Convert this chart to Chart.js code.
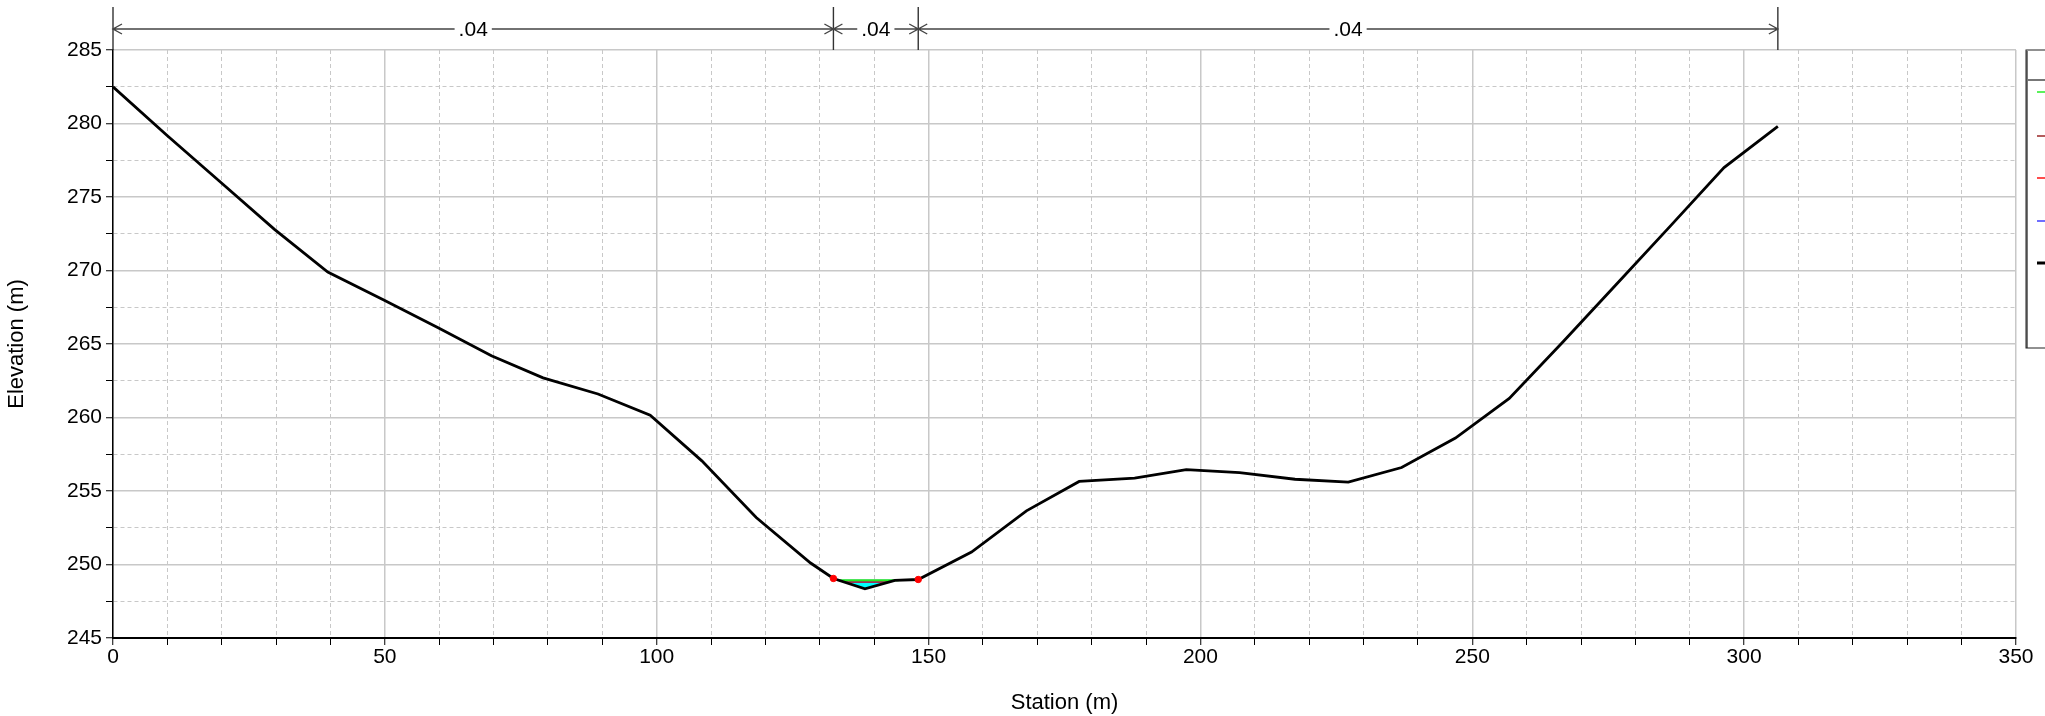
<!DOCTYPE html>
<html>
<head>
<meta charset="utf-8">
<script src="https://cdn.jsdelivr.net/npm/chart.js@4.4.1/dist/chart.umd.min.js"></script>
<style>
  html, body { margin: 0; padding: 0; background: #fff; overflow: hidden; }
  #wrap { width: 2045px; height: 716px; }
</style>
</head>
<body>
<div id="wrap"><canvas id="xsChart" width="2045" height="716"></canvas></div>
<script>
// ground profile (station m, elevation m)
const groundSta = [0, 9.9, 19.8, 29.7, 39.5, 49.8, 59.8, 69.6, 79.1, 89.2, 98.8, 108.3, 118.3, 128.3, 132.5, 138.3, 143.8, 148.1,
    157.9, 168.0, 177.7, 187.9, 197.4, 207.2, 217.4, 227.2, 237.0, 246.9, 256.8, 266.7, 276.6, 286.5, 296.3, 306.2];
const groundElev = [282.5, 279.2, 276.0, 272.8, 269.9, 268.0, 266.1, 264.2, 262.7, 261.6, 260.15, 257.05, 253.2, 250.1, 249.05, 248.35, 248.92, 248.98,
    250.85, 253.65, 255.65, 255.88, 256.45, 256.25, 255.8, 255.6, 256.6, 258.6, 261.3, 265.15, 269.1, 273.05, 277.0, 279.8];

// bank stations
const bankSta = [132.5, 148.1];
const bankElev = [249.05, 248.98];

// profile results
const egSta = [133.5, 144.5];
const egElev = [248.93, 248.93];
const wsSta = [133.7, 143.8];
const wsElev = [248.91, 248.91];
const critSta = [134.5, 142.7];
const critElev = [248.81, 248.81];

// Manning's n zones
const nBreaks = [0, 132.5, 148.1, 306.2];
const manningN = [0.04, 0.04, 0.04];

// legend entries (text runs off the right edge like the original)
const legendNames = ['EG PF 1', 'Crit PF 1', 'Bank Sta', 'WS PF 1', 'Ground'];
const legendColors = ['#33ee33', '#a03434', '#ff2020', '#4a4aff', '#000000'];

const xMin = 0, xMax = 350, xStep = 10, xMajor = 50;
const yMin = 245, yMax = 285, yStep = 2.5, yMajor = 5;

const pts = (xs, ys) => xs.map((x, i) => ({ x: x, y: ys[i] }));
const FONT = "'Liberation Sans', Arial, sans-serif";

const nLabelsPlugin = {
    id: 'nLabels',
    afterDraw(chart) {
        const ctx = chart.ctx;
        const xs = chart.scales.x;
        const top = chart.chartArea.top;
        const yLine = 29;
        ctx.save();
        ctx.strokeStyle = '#333';
        ctx.lineWidth = 1.4;
        nBreaks.forEach(s => {
            const px = xs.getPixelForValue(s);
            ctx.beginPath();
            ctx.moveTo(px, 7);
            ctx.lineTo(px, top);
            ctx.stroke();
        });
        ctx.font = '21px ' + FONT;
        ctx.textAlign = 'center';
        ctx.textBaseline = 'middle';
        for (let i = 0; i < manningN.length; i++) {
            const x1 = xs.getPixelForValue(nBreaks[i]);
            const x2 = xs.getPixelForValue(nBreaks[i + 1]);
            ctx.strokeStyle = '#444';
            ctx.beginPath();
            ctx.moveTo(x1, yLine);
            ctx.lineTo(x2, yLine);
            // arrow heads
            ctx.moveTo(x1 + 9, yLine - 5);
            ctx.lineTo(x1, yLine);
            ctx.lineTo(x1 + 9, yLine + 5);
            ctx.moveTo(x2 - 9, yLine - 5);
            ctx.lineTo(x2, yLine);
            ctx.lineTo(x2 - 9, yLine + 5);
            ctx.stroke();
            const label = manningN[i].toFixed(2).replace(/^0/, '');
            const mid = (x1 + x2) / 2;
            const w = ctx.measureText(label).width;
            ctx.fillStyle = '#fff';
            ctx.fillRect(mid - w / 2 - 4, yLine - 9, w + 8, 18);
            ctx.fillStyle = '#000';
            ctx.fillText(label, mid, yLine + 1);
        }
        ctx.restore();
    }
};

const boxLegendPlugin = {
    id: 'boxLegend',
    afterDraw(chart) {
        const ctx = chart.ctx;
        const left = chart.chartArea.right + 11;
        const top = chart.chartArea.top;
        const rowY = [92, 136, 178, 221, 263];
        ctx.save();
        ctx.strokeStyle = '#777';
        ctx.lineWidth = 2;
        ctx.beginPath();
        ctx.moveTo(left, top + 1);
        ctx.lineTo(left, 348);
        ctx.moveTo(left, 80);
        ctx.lineTo(left + 200, 80);
        ctx.stroke();
        ctx.strokeStyle = '#222';
        ctx.lineWidth = 1;
        ctx.strokeRect(left - 1, top, 200, 348 - top);
        ctx.font = '20px ' + FONT;
        ctx.textBaseline = 'middle';
        ctx.fillStyle = '#000';
        ctx.fillText('Legend', left + 40, 65);
        legendNames.forEach((name, i) => {
            ctx.strokeStyle = legendColors[i];
            ctx.lineWidth = i === 4 ? 3 : 1.6;
            ctx.beginPath();
            ctx.moveTo(left + 10, rowY[i]);
            ctx.lineTo(left + 40, rowY[i]);
            ctx.stroke();
            ctx.fillText(name, left + 48, rowY[i]);
        });
        ctx.restore();
    }
};

const isMajor = (ctx, step) => ctx.tick && Math.abs(ctx.tick.value / step - Math.round(ctx.tick.value / step)) < 1e-6;

const chart = new Chart(document.getElementById('xsChart').getContext('2d'), {
    type: 'scatter',
    data: {
        datasets: [
            {
                label: 'EG PF 1',
                data: pts(egSta, egElev),
                showLine: true,
                borderColor: '#22ee22',
                borderWidth: 2,
                pointRadius: 0,
                order: 1
            },
            {
                label: 'Crit PF 1',
                data: pts(critSta, critElev),
                showLine: true,
                borderColor: '#a03058',
                borderWidth: 2,
                pointRadius: 0,
                order: 2
            },
            {
                label: 'WS PF 1',
                data: pts(wsSta, wsElev),
                showLine: true,
                borderColor: '#3030ff',
                borderWidth: 1.5,
                backgroundColor: '#00ffff',
                fill: '+1',
                pointRadius: 0,
                order: 3
            },
            {
                label: 'Ground',
                data: pts(groundSta, groundElev),
                showLine: true,
                borderColor: '#000',
                borderWidth: 2.8,
                pointRadius: 0,
                tension: 0,
                order: 0
            },
            {
                label: 'Bank Sta',
                data: pts(bankSta, bankElev),
                showLine: false,
                backgroundColor: '#ff0000',
                borderColor: '#ff0000',
                pointRadius: 3.2,
                order: -1
            }
        ]
    },
    options: {
        responsive: false,
        animation: false,
        layout: { padding: { top: 50, right: 29, left: 0, bottom: 0 } },
        plugins: {
            legend: { display: false },
            tooltip: { enabled: false }
        },
        scales: {
            x: {
                type: 'linear',
                min: xMin,
                max: xMax,
                afterFit: s => { s.height = 78; },
                ticks: {
                    stepSize: xStep,
                    autoSkip: false,
                    maxRotation: 0,
                    padding: 0,
                    color: '#000',
                    font: { family: FONT, size: 21 },
                    callback: v => (v % xMajor === 0 ? v : '')
                },
                grid: {
                    color: '#c8c8c8',
                    lineWidth: c => (isMajor(c, xMajor) ? 1.5 : 1),
                    tickColor: '#000',
                    tickLength: 7,
                    tickWidth: 1,
                    tickBorderDash: []
                },
                border: {
                    color: '#000',
                    width: 2,
                    dash: c => (c.tick && !isMajor(c, xMajor) ? [4, 3] : [])
                },
                title: {
                    display: true,
                    text: 'Station (m)',
                    color: '#000',
                    font: { family: FONT, size: 22 },
                    padding: 0
                }
            },
            y: {
                type: 'linear',
                min: yMin,
                max: yMax,
                afterFit: s => { s.width = 113; },
                ticks: {
                    stepSize: yStep,
                    autoSkip: false,
                    padding: 4,
                    color: '#000',
                    font: { family: FONT, size: 21 },
                    callback: v => (v % yMajor === 0 ? v : '')
                },
                grid: {
                    color: '#c8c8c8',
                    lineWidth: c => (isMajor(c, yMajor) ? 1.5 : 1),
                    tickColor: '#000',
                    tickLength: 7,
                    tickWidth: 1,
                    tickBorderDash: []
                },
                border: {
                    color: '#000',
                    width: 1.5,
                    dash: c => (c.tick && !isMajor(c, yMajor) ? [4, 3] : [])
                },
                title: {
                    display: true,
                    text: 'Elevation (m)',
                    color: '#000',
                    font: { family: FONT, size: 22 },
                    padding: 4
                }
            }
        }
    },
    plugins: [nLabelsPlugin, boxLegendPlugin]
});
</script>
</body>
</html>
